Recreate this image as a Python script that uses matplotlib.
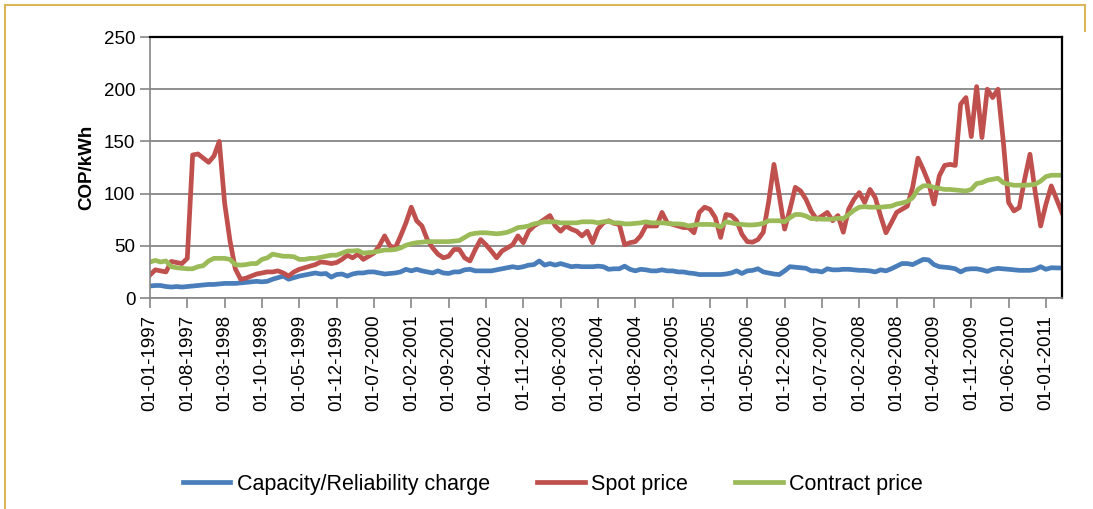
import matplotlib
matplotlib.use('Agg')
import matplotlib.pyplot as plt
import numpy as np
import pandas as pd

plt.rcParams['font.family'] = ['Liberation Sans', 'DejaVu Sans']

# monthly data, Jan 1997 - Apr 2011 (COP/kWh)
dates = pd.date_range('1997-01-01', periods=172, freq='MS')

capacity = [11.5, 12, 12, 11, 10.5, 11, 10.5, 11, 11.5, 12, 12.5, 13, 13, 13.5, 14, 14, 14, 14.5, 15, 15.5,
            16, 15.5, 16, 18, 19.5, 21, 18, 19.5, 21, 22, 23, 24, 23, 23.5, 20, 22.5, 23, 21, 23, 24,
            24, 25, 25, 24, 23, 23.5, 24, 25, 27.5, 26, 27.5, 26, 25, 24, 26, 24, 23.5, 25, 25, 27,
            27.5, 26, 26, 26, 26, 27, 28, 29, 30, 29, 30, 31.5, 32, 35.5, 31.5, 33, 31.5, 33, 31.5, 30,
            30.5, 30, 30, 30, 30.5, 30, 27.5, 28, 28, 30.5, 27.5, 26, 27.5, 27, 26, 26, 27, 26, 26, 25,
            25, 24, 23.5, 22.5, 22.5, 22.5, 22.5, 22.5, 23, 24, 26, 23.5, 26, 26.5, 28, 25, 24, 23, 22.5, 26,
            30, 29.5, 29, 28.5, 26, 26, 25, 28, 27, 27, 27.5, 27.5, 27, 26.5, 26.5, 26, 25, 27, 26, 28,
            30.5, 33, 33, 32, 34.5, 37, 36.5, 32, 30, 29.5, 29, 28, 25, 27.5, 28, 28, 27, 25.5, 27.5, 28.4,
            28, 27.5, 27, 26.5, 26.5, 26.5, 27.5, 30, 27.5, 29, 28.8, 28.8]

spot = [22, 27, 26, 25, 35, 34, 33, 38, 137, 138, 134, 130, 136, 150, 91, 55, 28, 18, 19, 21,
        23, 24, 25, 25, 26, 24, 21, 25, 27.5, 29, 30.5, 32, 34.5, 34, 33, 34, 37, 41, 38.5, 42,
        37, 40, 43, 50, 59.5, 50, 48, 59.5, 72, 87, 74, 69, 56, 48, 42, 38.5, 40, 46.5, 46.5, 38.5,
        35.5, 46.5, 56, 51, 45, 38.5, 45, 48, 51, 59.5, 53, 64, 69, 72, 75.5, 79, 69, 64, 69, 66,
        64, 59.5, 64, 53, 66, 72, 74, 71.5, 70.5, 51, 53, 54, 59.5, 69, 69, 69, 82, 72, 70.5, 69,
        67.5, 67.5, 62.5, 82, 87, 85, 77, 58, 80, 79, 74, 61, 54, 53.5, 56, 63, 92, 128, 98, 66,
        85, 106, 102.5, 94.5, 83, 75.5, 78.5, 82, 74, 79, 63, 85, 94.5, 101, 91.5, 104, 96, 78.5, 62.5, 72,
        82, 85, 88, 106, 134, 123, 110.5, 90, 117, 127, 128, 127, 185.6, 192, 154.6, 202.5, 153.7, 200, 192, 200,
        150, 91.4, 83.4, 86.6, 113.7, 137.7, 101, 69, 90, 107.4, 94.6, 81.8]

contract = [34.5, 36, 34.5, 35.5, 30, 29, 28.5, 28, 28, 30, 31, 35.5, 38, 38, 38, 37, 32, 31.5, 32, 33,
            33, 37, 38.5, 42, 41, 40, 40, 39.5, 37, 37, 38, 38, 39, 40, 41, 41, 43, 45, 45, 45.5,
            43, 43.5, 44, 45, 46, 46, 46.5, 48, 50.5, 52, 53, 53.5, 54, 54, 54, 54, 54, 54.5, 55, 58,
            61, 62, 62.5, 62.5, 62, 61.5, 62, 63, 65, 67.5, 68, 69, 71, 72, 73, 73, 73, 72, 72, 72,
            72, 73, 73, 73, 72, 73, 73.5, 72, 72, 71, 71, 71.5, 72, 73, 72, 72, 72, 71.5, 71, 71,
            70.5, 69, 70, 70.5, 70.5, 70.5, 70, 68, 73, 72, 71, 70.5, 70, 70, 70.5, 71.5, 74, 74, 74, 73,
            77, 80, 80, 78.5, 76, 76, 75.5, 75.5, 75.5, 76.5, 76, 80, 84, 87, 87.5, 87, 87, 87, 87.5, 88,
            90, 91, 92.5, 96, 104, 107.5, 107.5, 106, 105, 104, 104, 103.5, 103, 102.5, 104, 109.6, 110.5, 112.8, 113.7, 114.7,
            110.5, 109, 108, 108, 108, 108.3, 109, 112, 116.3, 117.6, 117.6, 117.6]

x = np.arange(len(dates))
tick_pos = x[::7]
tick_labels = [d.strftime('%d-%m-%Y') for d in dates[::7]]

fig = plt.figure(figsize=(10.93, 5.09), dpi=100)
ax = fig.add_axes([0.1372, 0.4145, 0.8344, 0.5128])

ax.plot(x, capacity, color='#4a7ebb', lw=3.4, label='Capacity/Reliability charge', solid_joinstyle='round')
ax.plot(x, spot, color='#c0504d', lw=3.4, label='Spot price', solid_joinstyle='round')
ax.plot(x, contract, color='#9bbb59', lw=3.4, label='Contract price', solid_joinstyle='round')

ax.set_xlim(0, len(x) - 1)
ax.set_ylim(0, 250)
ax.set_yticks(np.arange(0, 251, 50))
ax.set_xticks(tick_pos)
ax.set_xticklabels(tick_labels, rotation=90, fontsize=13.5)
ax.tick_params(axis='y', labelsize=13.5, length=7, color='#868686', width=1.2)
ax.tick_params(axis='x', length=7, color='#868686', width=1.2, pad=5)
ax.grid(axis='y', color='#868686', lw=1.3)
ax.set_axisbelow(True)

ax.set_ylabel('COP/kWh', fontsize=13.5, fontweight='bold', labelpad=6)

for s in ['left', 'bottom']:
    ax.spines[s].set_color('#868686')
    ax.spines[s].set_linewidth(1.2)
for s in ['top', 'right']:
    ax.spines[s].set_color('black')
    ax.spines[s].set_linewidth(1.6)

fig.legend(loc='center', bbox_to_anchor=(0.506, 0.049), ncol=3, frameon=False,
           fontsize=15.5, handlelength=2.2, columnspacing=2.2, handletextpad=0.3)

# golden frame lines around the figure
fig.add_artist(plt.Line2D([0.005, 0.005], [0.0, 0.99], color='#dcb65a', lw=1.5))
fig.add_artist(plt.Line2D([0.005, 0.993], [0.99, 0.99], color='#dcb65a', lw=1.5))
fig.add_artist(plt.Line2D([0.993, 0.993], [0.99, 0.94], color='#dcb65a', lw=1.5))

fig.savefig('out.png', dpi=100)
